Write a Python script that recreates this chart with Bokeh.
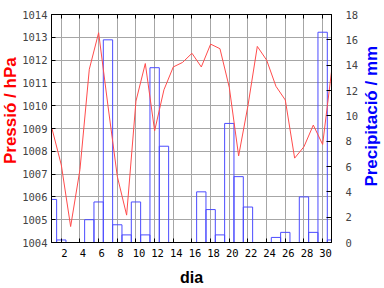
from math import pi
from bokeh.plotting import figure
from bokeh.layouts import row
from bokeh.models import Range1d, LinearAxis, SingleIntervalTicker, ColumnDataSource
from bokeh.core.properties import value
from bokeh.embed import file_html
from bokeh.resources import INLINE

# ---- data ----
days = list(range(1, 32))
pressure = [1009.0, 1007.4, 1004.7, 1007.2, 1011.6, 1013.2, 1010.0, 1006.9, 1005.2, 1010.2,
            1011.85, 1008.9, 1010.7, 1011.7, 1011.9, 1012.3, 1011.7, 1012.7, 1012.5, 1010.8,
            1007.8, 1010.0, 1012.6, 1012.0, 1010.85, 1010.25, 1007.7, 1008.2, 1009.15, 1008.3,
            1011.65]
rain = [3.4, 0.2, 0.0, 0.0, 1.8, 3.2, 16.0, 1.4, 0.6, 3.2,
        0.6, 13.8, 7.6, 0.0, 0.0, 0.0, 4.0, 2.6, 0.6, 9.4,
        5.2, 2.8, 0.0, 0.0, 0.4, 0.8, 0.0, 3.6, 0.8, 16.6,
        0.2]
x_title = "dia"
y_title = "Pressió / hPa"
y2_title = "Precipitació / mm"

RED_LINE = "#ff4c4c"
BLUE_LINE = "#4c4cff"
GRID = "#a6a6a6"
TICK_FONT = "DejaVu Sans Mono"
TICK_SIZE = "10.5px"
TITLE_FONT = "Liberation Sans"
H = 288
WL, WR = 19, 23

src = ColumnDataSource(dict(
    day=days, p=pressure, rain=rain,
    left=[d - 0.5 for d in days], right=[d + 0.5 for d in days],
    zero=[0.0] * len(days)))

p = figure(width=384 - WL - WR, height=H, output_backend="svg", toolbar_location=None,
           x_range=Range1d(0.95, 30.95), y_range=Range1d(1004, 1014),
           min_border_left=30, min_border_right=27, min_border_top=14, min_border_bottom=45,
           background_fill_color="white", border_fill_color="white")
p.outline_line_color = "black"
p.outline_line_width = 1

p.extra_y_ranges = {"rain": Range1d(0, 18)}
p.extra_x_ranges = {"lab": Range1d(0.95 - 0.32, 30.95 - 0.32)}

# bars (outline only)
p.quad(left="left", right="right", bottom="zero", top="rain", source=src,
       y_range_name="rain", fill_color=None, line_color=BLUE_LINE, line_width=1)
# pressure line
p.line(x="day", y="p", source=src, line_color=RED_LINE, line_width=1)

# grids
p.xgrid.grid_line_color = GRID
p.ygrid.grid_line_color = GRID

# bottom axis: ticks only (labels on a slightly shifted axis below)
xa = p.xaxis[0]
xa.ticker = SingleIntervalTicker(interval=2, num_minor_ticks=0)
xa.major_label_text_font_size = "0px"
xa.major_label_text_color = None
xa.major_label_standoff = 0
xa.major_tick_in = 4
xa.major_tick_out = 0
xa.minor_tick_in = 0
xa.minor_tick_out = 0
xa.axis_line_color = "black"

lab = LinearAxis(x_range_name="lab", ticker=SingleIntervalTicker(interval=2, num_minor_ticks=0),
                 axis_line_color=None, major_tick_in=0, major_tick_out=0,
                 minor_tick_in=0, minor_tick_out=0, major_label_standoff=6,
                 major_label_text_font=TICK_FONT, major_label_text_font_size=TICK_SIZE,
                 major_label_text_color="black",
                 axis_label=x_title, axis_label_standoff=9,
                 axis_label_text_font=TITLE_FONT, axis_label_text_font_style="bold",
                 axis_label_text_font_size="16px", axis_label_text_color="black")
p.add_layout(lab, "below")

top = LinearAxis(ticker=SingleIntervalTicker(interval=2, num_minor_ticks=0),
                 major_label_text_font_size="0px", major_label_text_color=None,
                 major_label_standoff=0,
                 major_tick_in=4, major_tick_out=0, minor_tick_in=0, minor_tick_out=0,
                 axis_line_color="black")
p.add_layout(top, "above")

ya = p.yaxis[0]
ya.ticker = SingleIntervalTicker(interval=1, num_minor_ticks=0)
ya.major_tick_in = 4
ya.major_tick_out = 0
ya.minor_tick_in = 0
ya.minor_tick_out = 0
ya.major_label_standoff = 4
ya.major_label_text_font = TICK_FONT
ya.major_label_text_font_size = TICK_SIZE
ya.axis_line_color = "black"

ra = LinearAxis(y_range_name="rain", ticker=SingleIntervalTicker(interval=2, num_minor_ticks=0),
                major_tick_in=5, major_tick_out=0, minor_tick_in=0, minor_tick_out=0,
                major_label_standoff=14, major_label_text_font=TICK_FONT,
                major_label_text_font_size=TICK_SIZE, axis_line_color="black")
p.add_layout(ra, "right")


def side_title(width, text, color, x, y):
    f = figure(width=width, height=H, output_backend="svg", toolbar_location=None,
               x_range=Range1d(0, width), y_range=Range1d(0, H),
               x_axis_location=None, y_axis_location=None, min_border=0,
               outline_line_color=None, background_fill_color="white",
               border_fill_color="white")
    f.xgrid.visible = False
    f.ygrid.visible = False
    f.text(x=[x], y=[y], text=[text], angle=pi / 2, text_align="center",
           text_baseline="middle", text_color=color, text_font=value(TITLE_FONT),
           text_font_style="bold", text_font_size="17px")
    return f


left_t = side_title(WL, y_title, "#ff0000", 9.5, H - 121.5)
right_t = side_title(WR, y2_title, "#0000ff", 10.0, H - 128.5)

layout = row(left_t, p, right_t, spacing=0)
open("out.html", "w").write(file_html(layout, INLINE))
